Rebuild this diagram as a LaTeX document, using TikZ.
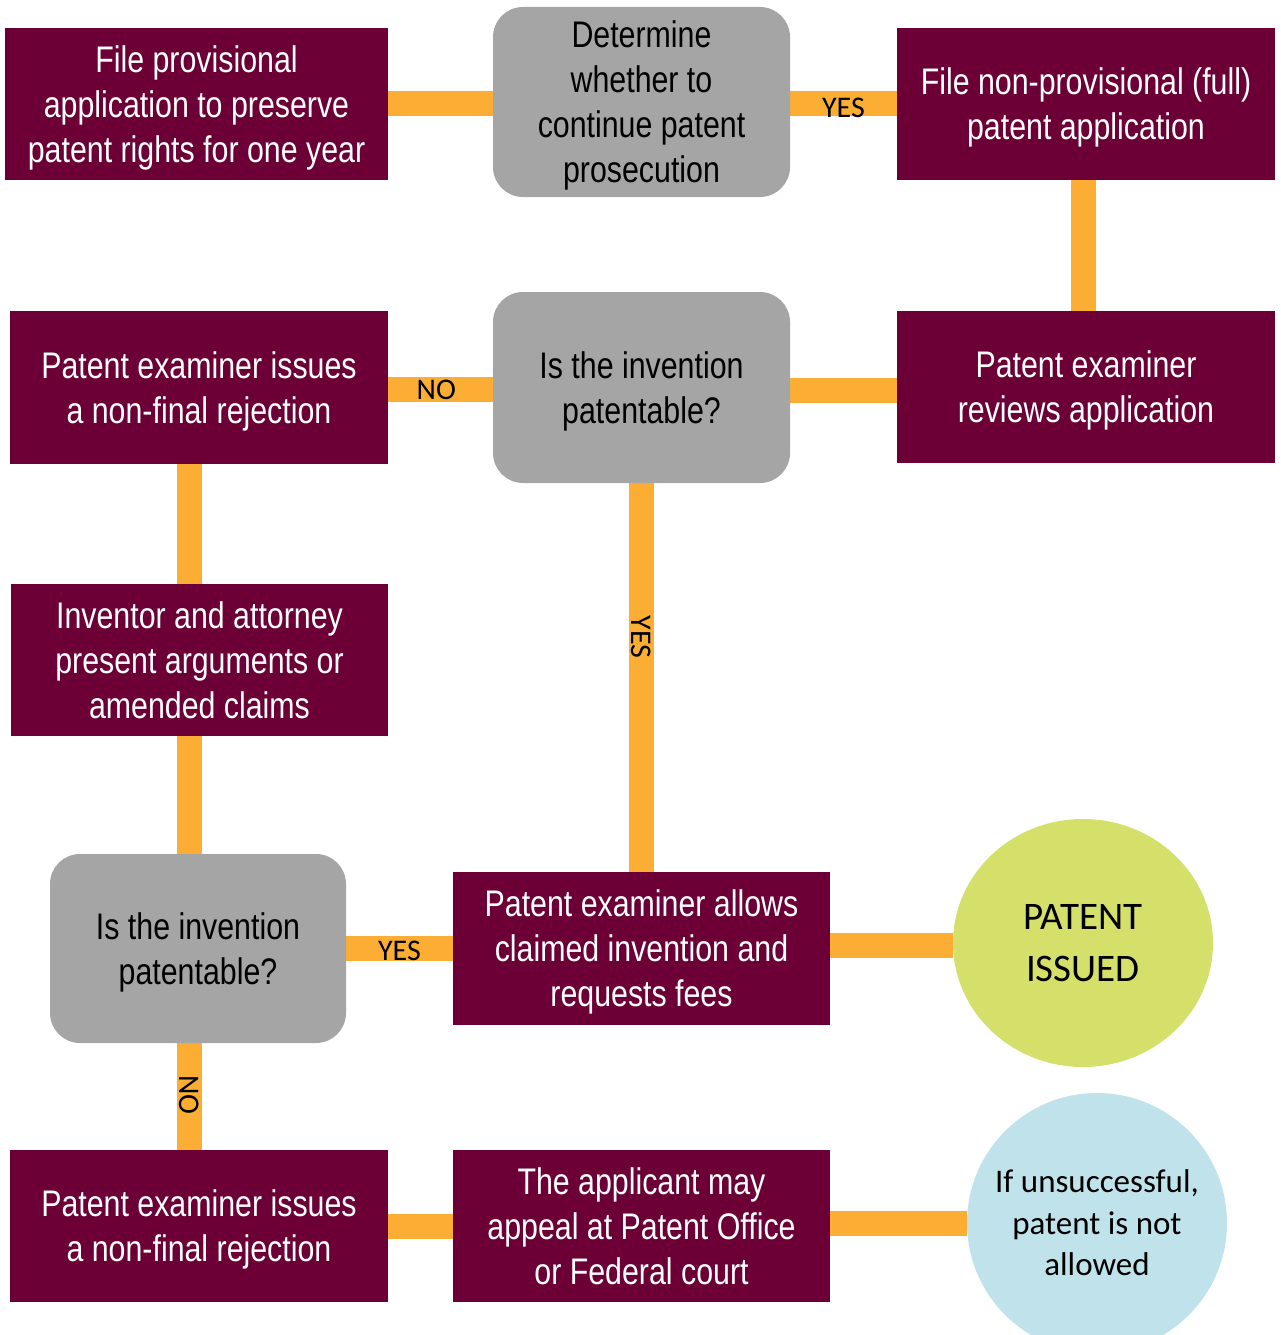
\documentclass[tikz,border=0pt]{standalone}
\usepackage{fontspec}
\setmainfont{Carlito}
\newfontfamily\boxfont[FakeStretch=0.82]{Liberation Sans}
\usetikzlibrary{shapes.geometric,backgrounds}
\definecolor{maroonbox}{HTML}{6C0036}
\definecolor{graybox}{HTML}{A5A5A5}
\definecolor{connorange}{HTML}{FBAE33}
\definecolor{greencirc}{HTML}{D5E06B}
\definecolor{bluecirc}{HTML}{C0E2EA}
\tikzset{
  mbox/.style={fill=maroonbox, text=white, inner sep=0pt, align=center, text depth=-1.5pt,
    font=\boxfont\fontsize{37}{45}\selectfont},
  gbox/.style={fill=graybox, text=black, inner sep=0pt, align=center, rounded corners=30pt,
    text depth=-1.5pt, minimum width=297, minimum height=190, font=\boxfont\fontsize{37}{45}\selectfont},
  conn/.style={draw=connorange, line width=25pt},
  lbl/.style={inner sep=0pt, text=black, font=\fontsize{30}{32}\selectfont},
  circtext/.style={ellipse, inner xsep=-25pt, inner ysep=0pt, align=center, text=black}
}
\begin{document}
\begin{tikzpicture}[x=1pt,y=-1pt]
\useasboundingbox (0,0) rectangle (1280,1335);
\clip (0,0) rectangle (1280,1335);

% nodes
\node[mbox, minimum width=383, minimum height=152] (A) at (196.5,104) {File provisional\\application to preserve\\patent rights for one year};
\node[gbox] (B) at (641.5,102) {Determine\\whether to\\continue patent\\prosecution};
\node[mbox, minimum width=378, minimum height=152] (C) at (1086,104) {File non-provisional (full)\\patent application};
\node[mbox, minimum width=378, minimum height=152] (D) at (1086,387) {Patent examiner\\reviews application};
\node[gbox, minimum height=191] (E) at (641.5,387.5) {Is the invention\\patentable?};
\node[mbox, minimum width=378, minimum height=153] (F) at (199,387.5) {Patent examiner issues\\a non-final rejection};
\node[mbox, minimum width=377, minimum height=152] (G) at (199.5,660) {Inventor and attorney\\present arguments or\\amended claims};
\node[gbox, minimum width=296, minimum height=189] (H) at (198,948.5) {Is the invention\\patentable?};
\node[mbox, minimum width=377, minimum height=153] (I) at (641.5,948.5) {Patent examiner allows\\claimed invention and\\requests fees};
\node[circtext, fill=greencirc, minimum width=260, minimum height=248,
  font=\fontsize{39}{52}\selectfont] (J) at (1083,943) {PATENT\\ISSUED};
\node[mbox, minimum width=378, minimum height=152] (K) at (199,1226) {Patent examiner issues\\a non-final rejection};
\node[mbox, minimum width=377, minimum height=152] (L) at (641.5,1226) {The applicant may\\appeal at Patent Office\\or Federal court};
\node[circtext, fill=bluecirc, minimum width=260, minimum height=260,
  font=\fontsize{33}{41.5}\selectfont] (M) at (1097,1223) {If unsuccessful,\\patent is not\\allowed};

% connectors
\begin{pgfonlayer}{background}
\draw[conn] (A.east) -- (A.east -| B.west);
\draw[conn] (C.west) -- (C.west -| B.east) node[lbl, pos=0.5, yshift=-4pt] {YES};
\draw[conn] ([xshift=-3pt]C.south) -- ([xshift=-3pt]C.south |- D.north);
\draw[conn] ([yshift=-3pt]D.west) -- ([yshift=-3pt]D.west -| E.east);
\draw[conn] ([yshift=-1.5pt]F.east) -- ([yshift=-1.5pt]F.east -| E.west) node[lbl, pos=0.46, yshift=-1pt] {NO};
\draw[conn] ([xshift=-9.5pt]F.south) -- ([xshift=-9.5pt]F.south |- G.north);
\draw[conn] ([xshift=-8.5pt]H.north) -- ([xshift=-8.5pt]H.north |- G.south);
\draw[conn] (E.south) -- (E.south |- I.north) node[lbl, pos=0.396, rotate=-90] {YES};
\draw[conn] (H.east) -- (H.east -| I.west) node[lbl, pos=0.5, yshift=-2pt] {YES};
\draw[conn] ([yshift=-2pt]J.west) -- ([yshift=-2pt]J.west -| I.east);
\draw[conn] ([xshift=-8.5pt]H.south) -- ([xshift=-8.5pt]H.south |- K.north) node[lbl, pos=0.485, rotate=-90] {NO};
\draw[conn] (K.east) -- (K.east -| L.west);
\draw[conn] (M.west) -- (M.west -| L.east);
\end{pgfonlayer}
\end{tikzpicture}
\end{document}
